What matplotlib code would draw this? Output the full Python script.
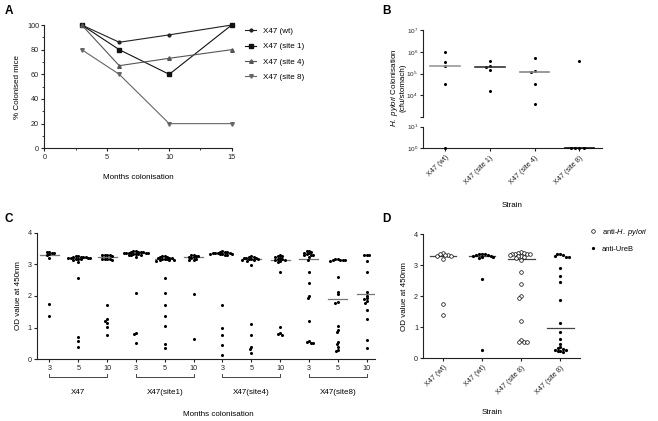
import numpy as np
import matplotlib
matplotlib.use("Agg")
import matplotlib.pyplot as plt
from matplotlib.lines import Line2D

plt.rcParams['font.family'] = ['Liberation Sans', 'DejaVu Sans']
plt.rcParams['mathtext.fontset'] = 'custom'
plt.rcParams['mathtext.rm'] = 'Liberation Sans'
plt.rcParams['mathtext.it'] = 'Liberation Sans:italic'
plt.rcParams['axes.linewidth'] = 0.8
plt.rcParams['xtick.major.size'] = 2.2
plt.rcParams['ytick.major.size'] = 2.2
plt.rcParams['xtick.major.width'] = 0.8
plt.rcParams['ytick.major.width'] = 0.8
plt.rcParams['xtick.major.pad'] = 2
plt.rcParams['ytick.major.pad'] = 1.5

# ---------------- Data ----------------
# Panel A
a_months = [3, 6, 10, 15]
a_wt = [100, 86, 92, 100]
a_site1 = [100, 80, 60, 100]
a_site4 = [100, 67, 73, 80]
a_site8 = [80, 60, 20, 20]
a_labels = ['X47 (wt)', 'X47 (site 1)', 'X47 (site 4)', 'X47 (site 8)']

# Panel B (cfu/stomach)
b_strains = ['X47 (wt)', 'X47 (site 1)', 'X47 (site 4)', 'X47 (site 8)']
b_wt = [1.0e6, 3.3e5, 2.2e5, 3.2e4, 1.0]
b_site1 = [4.0e5, 2.2e5, 1.95e5, 1.4e5, 1.6e4]
b_site4 = [5.2e5, 1.3e5, 1.2e5, 3.2e4, 3.9e3]
b_site8 = [3.7e5, 1.0, 1.0, 1.0, 1.0]
b_medians = [2.2e5, 1.95e5, 1.2e5, 1.0]

# Panel C (OD at 450nm)
c_months = ['3', '5', '10', '3', '5', '10', '3', '5', '10', '3', '5', '10']
c_groups = ['X47', 'X47(site1)', 'X47(site4)', 'X47(site8)']
c_x47_3 = [3.40, 3.35, 3.36, 3.38, 3.32, 3.30, 3.19, 1.75, 1.38]
c_x47_5 = [3.26, 3.24, 3.22, 3.25, 3.21, 3.20, 3.23, 3.19, 3.18, 3.17, 3.22, 3.16, 3.20, 3.15,
           3.06, 2.58, 0.70, 0.57, 0.40]
c_x47_10 = [3.30, 3.28, 3.29, 3.27, 3.30, 3.17, 3.16, 3.18, 3.15, 3.17, 1.70, 1.28, 1.22, 1.15,
            1.03, 0.78]
c_s1_3 = [3.42, 3.40, 3.38, 3.39, 3.37, 3.41, 3.36, 3.35, 3.38, 3.34, 3.33, 3.36, 3.32, 3.35,
          3.31, 3.30, 3.28, 3.22, 2.10, 0.83, 0.80, 0.52]
c_s1_5 = [3.26, 3.24, 3.22, 3.25, 3.20, 3.21, 3.19, 3.18, 3.17, 3.16, 3.15, 3.14, 3.13, 3.12,
          2.56, 2.11, 1.72, 1.38, 1.05, 0.47, 0.37]
c_s1_10 = [3.30, 3.28, 3.26, 3.25, 3.24, 3.22, 3.20, 3.18, 3.15, 3.13, 2.06, 0.65]
c_s4_3 = [3.42, 3.40, 3.38, 3.39, 3.37, 3.36, 3.35, 3.34, 3.33, 3.32, 3.31, 3.30, 3.36, 3.34,
          1.72, 0.98, 0.76, 0.45, 0.13]
c_s4_5 = [3.25, 3.24, 3.22, 3.21, 3.20, 3.19, 3.18, 3.17, 3.16, 3.15, 3.14, 3.12, 2.98, 1.10,
          0.77, 0.38, 0.32, 0.21]
c_s4_10 = [3.28, 3.27, 3.25, 3.23, 3.20, 3.18, 3.17, 3.15, 3.13, 3.10, 3.08, 2.76, 1.03, 0.83,
           0.78, 0.80]
c_s8_3 = [3.43, 3.41, 3.39, 3.37, 3.35, 3.33, 3.31, 3.29, 3.28, 3.22, 3.15, 2.77, 2.41, 2.00,
          1.93, 1.22, 0.58, 0.55, 0.53, 0.52]
c_s8_5 = [3.17, 3.16, 3.15, 3.14, 3.13, 3.12, 3.14, 2.61, 2.14, 2.06, 1.80, 1.79, 1.05, 0.93,
          0.86, 0.55, 0.48, 0.38, 0.30, 0.26]
c_s8_10 = [3.31, 3.30, 3.29, 3.12, 2.77, 2.13, 2.01, 1.93, 1.92, 1.84, 1.77, 1.55, 1.27, 0.61,
           0.37]
c_medians = [3.31, 3.20, 3.22, 3.35, 3.18, 3.22, 3.35, 3.18, 3.15, 3.18, 1.91, 2.06]

# Panel D
d_strains = ['X47 (wt)', 'X47 (wt)', 'X47 (site 8)', 'X47 (site 8)']
d_wt_hp = [3.39, 3.35, 3.33, 3.31, 3.30, 3.34, 3.20, 1.74, 1.39]
d_wt_ureb = [3.38, 3.36, 3.35, 3.32, 3.31, 3.30, 3.28, 3.27, 3.25, 3.33, 2.57, 0.26]
d_s8_hp = [3.42, 3.40, 3.39, 3.38, 3.37, 3.36, 3.35, 3.33, 3.31, 3.29, 3.27, 3.22, 3.17, 2.77,
           2.40, 2.00, 1.93, 1.21, 0.58, 0.53, 0.52, 0.52]
d_s8_ureb = [3.36, 3.35, 3.34, 3.30, 3.28, 3.28, 2.90, 2.66, 2.45, 1.89, 1.13, 0.85, 0.62, 0.45,
             0.35, 0.32, 0.30, 0.28, 0.27, 0.25, 0.22, 0.20]
d_medians = [3.30, 3.30, 3.19, 0.99]

# ---------------- Figure ----------------
W, H = 658, 421
fig = plt.figure(figsize=(W / 100, H / 100), dpi=100)
fig.patch.set_facecolor('white')


def rect(l, t, r, b):
    return [l / W, 1 - b / H, (r - l) / W, (b - t) / H]


def swarm_x(ax, xc, values, d=3.0):
    vals = np.asarray(values, dtype=float)
    pts = ax.transData.transform(np.column_stack([np.full(len(vals), xc), vals]))
    ys = pts[:, 1]
    order = np.argsort(-ys, kind='stable')
    placed = []
    offs = np.zeros(len(vals))
    for i in order:
        y = ys[i]
        nb = [(px, py) for px, py in placed if abs(py - y) < d]
        cands = [0.0]
        for px, py in nb:
            dx = np.sqrt(max(d * d - (py - y) ** 2, 0))
            cands += [px + dx, px - dx]
        cands.sort(key=lambda c: (abs(c), c))
        for c in cands:
            if all((c - px) ** 2 + (y - py) ** 2 >= d * d - 1e-6 for px, py in nb):
                offs[i] = c
                break
        placed.append((offs[i], y))
    x0 = pts[0, 0]
    back = ax.transData.inverted().transform(np.column_stack([x0 + offs, ys]))
    return back[:, 0]


TICK_FS = 5.2
LAB_FS = 5.8
dark = '#222222'


def style(ax):
    for s in ['top', 'right']:
        ax.spines[s].set_visible(False)
    for s in ['left', 'bottom']:
        ax.spines[s].set_color(dark)
    ax.tick_params(labelsize=TICK_FS, colors=dark)


# ---------------- Panel A ----------------
axA = fig.add_axes(rect(44.3, 25, 231.7, 148.3))
style(axA)
series = [a_wt, a_site1, a_site4, a_site8]
mk = ['o', 's', '^', 'v']
ms = [2.0, 2.3, 2.6, 2.6]
cols = ['#222222', '#111111', '#555555', '#666666']
handles = []
for s, m, z, c, lab in zip(series, mk, ms, cols, a_labels):
    ln, = axA.plot(a_months, s, marker=m, ms=z, color=c, lw=0.8, label=lab, clip_on=False)
    handles.append(ln)
axA.set_xlim(0, 15)
axA.set_ylim(0, 100)
axA.set_xticks([0, 5, 10, 15])
axA.set_xticks([2.5, 7.5, 12.5], minor=True)
axA.set_yticks([0, 20, 40, 60, 80, 100])
axA.set_yticks([10, 30, 50, 70, 90], minor=True)
axA.tick_params(which='minor', length=1.3, width=0.6, colors=dark)
axA.set_xlabel('Months colonisation', fontsize=LAB_FS, labelpad=9)
axA.set_ylabel('% Colonised mice', fontsize=LAB_FS, labelpad=4)
fig.legend(handles=handles, loc='upper left', bbox_to_anchor=(245 / W, 1 - 27.5 / H),
           bbox_transform=fig.transFigure, frameon=False, fontsize=LAB_FS,
           handlelength=1.4, handletextpad=0.8, labelspacing=0.95, borderpad=0,
           borderaxespad=0)

# ---------------- Panel B ----------------
bl, br = 422.7, 601.7
axBu = fig.add_axes(rect(bl, 30, br, 117.3))
axBl = fig.add_axes(rect(bl, 126.7, br, 148.3))
for ax in (axBu, axBl):
    style(ax)
    ax.set_yscale('log')
    ax.set_xlim(-0.5, 3.5)
    ax.minorticks_off()
    ax.tick_params(axis='y', labelsize=4.6, pad=1.2)
axBu.spines['bottom'].set_visible(False)
axBu.tick_params(axis='x', bottom=False, labelbottom=False)
axBu.set_ylim(1e3, 1e7)
axBu.set_yticks([1e3, 1e4, 1e5, 1e6, 1e7])
axBu.set_yticklabels(['', '$10^{4}$', '$10^{5}$', '$10^{6}$', '$10^{7}$'])
axBu.minorticks_off()
axBl.set_ylim(1, 10)
axBl.set_yticks([1, 10])
axBl.set_yticklabels(['$10^{0}$', '$10^{1}$'])
axBl.minorticks_off()
axBl.set_xticks(range(4))
axBl.set_xticklabels(b_strains, rotation=45, ha='right', rotation_mode='anchor', fontsize=TICK_FS)

b_data = [b_wt, b_site1, b_site4, b_site8]
b_line_cols = ['#999999', '#333333', '#888888', '#111111']
for i, vals in enumerate(b_data):
    vals = np.asarray(vals)
    up = vals[vals >= 1e3]
    lo = vals[vals < 1e3]
    if len(up):
        axBu.plot(swarm_x(axBu, i, up, 3.6), up, 'o', ms=2.2, color='black', mew=0, clip_on=False)
    if len(lo):
        axBl.plot(swarm_x(axBl, i, lo, 4.2), lo, 'o', ms=2.2, color='black', mew=0, clip_on=False,
                  zorder=4)
    m = b_medians[i]
    tgt = axBu if m >= 1e3 else axBl
    tgt.plot([i - 0.33, i + 0.33], [m, m], color=b_line_cols[i], lw=1.2, clip_on=False, zorder=3)

fig.text(395 / W, 1 - 88 / H, '$\\it{H.\\ pylori}$ Colonisation', rotation=90,
         ha='center', va='center', fontsize=LAB_FS)
fig.text(403 / W, 1 - 88 / H, '(cfu/stomach)', rotation=90, ha='center', va='center',
         fontsize=LAB_FS)
fig.text(511.7 / W, 1 - 205 / H, 'Strain', ha='center', va='center', fontsize=LAB_FS)

# ---------------- Panel C ----------------
axC = fig.add_axes(rect(36.7, 232.7, 375, 359.3))
style(axC)
axC.set_xlim(-0.44, 11.29)
axC.set_ylim(0, 4)
axC.set_yticks([0, 1, 2, 3, 4])
axC.set_xticks(range(12))
axC.set_xticklabels(c_months, fontsize=TICK_FS)
c_data = [c_x47_3, c_x47_5, c_x47_10, c_s1_3, c_s1_5, c_s1_10,
          c_s4_3, c_s4_5, c_s4_10, c_s8_3, c_s8_5, c_s8_10]
for i, vals in enumerate(c_data):
    axC.plot([i - 0.33, i + 0.33], [c_medians[i]] * 2, color='#777777', lw=0.9, zorder=2)
    axC.plot(swarm_x(axC, i, vals, 2.5), vals, 'o', ms=2.2, color='black', mew=0, zorder=3,
             clip_on=False)
axC.set_ylabel('OD value at 450nm', fontsize=LAB_FS, labelpad=4)
trC = axC.get_xaxis_transform()
for g, name in enumerate(c_groups):
    x0, x1 = 3 * g, 3 * g + 2
    axC.plot([x0, x0, x1, x1], [-0.115, -0.14, -0.14, -0.115], color='#444444', lw=0.7,
             transform=trC, clip_on=False)
    axC.text((x0 + x1) / 2, -0.26, name, transform=trC, ha='center', va='center',
             fontsize=LAB_FS)
fig.text(218 / W, 1 - 414 / H, 'Months colonisation', ha='center', va='center', fontsize=LAB_FS)

# ---------------- Panel D ----------------
axD = fig.add_axes(rect(423.3, 234.3, 580, 358.3))
style(axD)
axD.set_xlim(-0.5, 3.5)
axD.set_ylim(0, 4)
axD.set_yticks([0, 1, 2, 3, 4])
axD.set_xticks(range(4))
axD.set_xticklabels(d_strains, rotation=45, ha='right', rotation_mode='anchor', fontsize=TICK_FS)
d_data = [d_wt_hp, d_wt_ureb, d_s8_hp, d_s8_ureb]
d_open = [True, False, True, False]
for i, vals in enumerate(d_data):
    axD.plot([i - 0.34, i + 0.34], [d_medians[i]] * 2, color='#444444', lw=0.9, zorder=2)
    xs = swarm_x(axD, i, vals, 3.0)
    if d_open[i]:
        axD.plot(xs, vals, 'o', ms=2.6, mfc='white', mec='black', mew=0.5, zorder=3, clip_on=False)
    else:
        axD.plot(xs, vals, 'o', ms=2.3, color='black', mew=0, zorder=3, clip_on=False)
axD.set_ylabel('OD value at 450nm', fontsize=LAB_FS, labelpad=4)
fig.text(492 / W, 1 - 413 / H, 'Strain', ha='center', va='center', fontsize=LAB_FS)

hD = [Line2D([], [], ls='none', marker='o', ms=2.6, mfc='white', mec='black', mew=0.5),
      Line2D([], [], ls='none', marker='o', ms=2.3, color='black', mew=0)]
fig.legend(handles=hD, labels=['anti-$\\it{H.\\ pylori}$', 'anti-UreB'], loc='upper left',
           bbox_to_anchor=(589 / W, 1 - 227 / H), bbox_transform=fig.transFigure,
           frameon=False, fontsize=5.4, handlelength=1.0, handletextpad=0.7,
           labelspacing=1.0, borderpad=0, borderaxespad=0, numpoints=1)

# ---------------- Panel letters ----------------
for lab, (px, py) in zip('ABCD', [(9, 11), (386, 11), (9, 219), (386, 219)]):
    fig.text(px / W, 1 - py / H, lab, fontsize=8.5, fontweight='bold', ha='center', va='center')

fig.savefig('out.png', dpi=100)
